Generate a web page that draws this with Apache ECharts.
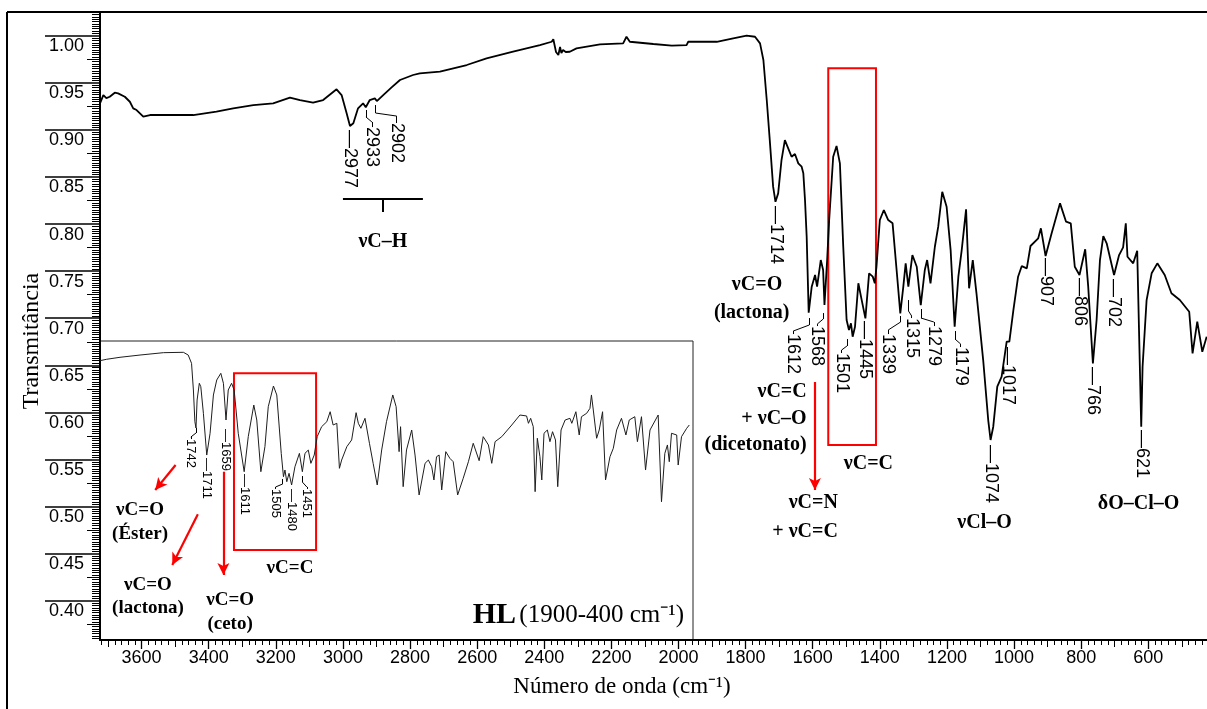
<!DOCTYPE html>
<html><head><meta charset="utf-8">
<script src="https://cdn.jsdelivr.net/npm/echarts@6/dist/echarts.min.js"></script>
<style>html,body{margin:0;padding:0;background:#fff}#c{width:1207px;height:709px}</style>
</head><body><div id="c"></div>
<script>
// ---------- main spectrum (complex) ----------
const mainWavenumber = [3724,3714,3705,3695,3680,3670,3650,3635,3625,3615,3605,3595,3575,3526,3446,3377,3327,3267,3208,3158,3128,3089,3059,3019,3004,2989,2979,2969,2955,2940,2932,2920,2905,2899,2880,2855,2830,2791,2771,2711,2631,2572,2493,2413,2378,2373,2365,2358,2353,2349,2344,2336,2324,2304,2234,2165,2155,2145,2075,2020,1976,1971,1886,1837,1797,1772,1757,1747,1737,1728,1718,1711,1703,1693,1683,1673,1663,1653,1643,1633,1628,1623,1618,1612,1603,1593,1587,1576,1569,1565,1557,1551,1539,1529,1519,1509,1499,1492,1486,1481,1474,1464,1454,1443,1432,1421,1415,1410,1400,1388,1375,1362,1350,1339,1330,1323,1315,1303,1290,1278,1266,1259,1249,1236,1226,1214,1201,1189,1177,1166,1156,1143,1134,1123,1112,1092,1077,1070,1062,1050,1037,1022,1014,1002,988,977,962,951,928,920,906,888,863,845,831,819,805,788,779,765,754,744,734,724,702,687,675,667,662,645,633,621,617,605,590,573,551,531,506,478,468,454,439,426];
const mainTransmittance = [0.9282,0.9370,0.9338,0.9352,0.9395,0.9388,0.9352,0.9299,0.9229,0.9211,0.9176,0.9140,0.9158,0.9158,0.9158,0.9193,0.9229,0.9264,0.9282,0.9342,0.9317,0.9289,0.9317,0.9431,0.9370,0.9176,0.9041,0.9070,0.9229,0.9282,0.9240,0.9317,0.9335,0.9306,0.9370,0.9452,0.9530,0.9583,0.9601,0.9618,0.9689,0.9760,0.9830,0.9901,0.9936,0.9962,0.9827,0.9795,0.9880,0.9816,0.9848,0.9827,0.9830,0.9866,0.9909,0.9919,0.9989,0.9936,0.9912,0.9895,0.9901,0.9936,0.9936,0.9972,1.0000,0.9989,0.9919,0.9742,0.9317,0.8892,0.8397,0.8237,0.8326,0.8680,0.8892,0.8804,0.8715,0.8744,0.8645,0.8609,0.8539,0.8255,0.7866,0.7058,0.7335,0.7459,0.7335,0.7618,0.7512,0.7140,0.7618,0.8043,0.8715,0.8829,0.8645,0.7759,0.6981,0.6875,0.6946,0.6804,0.6910,0.7371,0.7193,0.6999,0.7477,0.7441,0.7371,0.7547,0.8043,0.8149,0.8043,0.8008,0.7512,0.7052,0.7335,0.7583,0.7335,0.7671,0.7547,0.7140,0.7512,0.7618,0.7371,0.7759,0.7972,0.8343,0.8184,0.7724,0.6910,0.7441,0.7724,0.8157,0.7318,0.7618,0.7265,0.6556,0.5919,0.5707,0.5848,0.6273,0.6379,0.6751,0.6751,0.7087,0.7441,0.7554,0.7530,0.7767,0.7849,0.7955,0.7661,0.7902,0.8220,0.8025,0.8008,0.7547,0.7459,0.7732,0.7335,0.6521,0.6981,0.7618,0.7873,0.7796,0.7459,0.7671,0.7753,0.8008,0.7653,0.7583,0.7717,0.5848,0.6485,0.7193,0.7477,0.7583,0.7459,0.7265,0.7193,0.7069,0.6627,0.6963,0.6644,0.6804];

// ---------- inset spectrum (HL, 1900-400 cm-1) ----------
const insetWavenumber = [2000,1982,1946,1892,1829,1775,1762,1753,1748,1744,1741,1738,1732,1728,1721,1712,1703,1694,1685,1674,1667,1660,1654,1645,1638,1627,1611,1600,1585,1577,1566,1555,1546,1532,1523,1511,1505,1501,1496,1490,1483,1474,1462,1454,1447,1438,1431,1422,1414,1402,1388,1379,1371,1361,1354,1348,1334,1321,1309,1303,1296,1285,1273,1263,1252,1240,1227,1210,1201,1193,1189,1182,1173,1159,1150,1139,1123,1114,1105,1099,1092,1085,1078,1067,1056,1047,1035,1020,1006,993,977,966,952,943,934,916,889,867,849,844,838,831,826,820,813,808,802,793,786,779,771,765,756,745,732,727,716,707,701,687,678,674,669,660,653,644,636,624,615,606,593,581,572,557,550,539,528,516,494,485,476,469,464,458,444,440,431,417,410];
const insetTransmittance = [0.6549,0.6564,0.6585,0.6609,0.6634,0.6638,0.6609,0.6521,0.6238,0.5901,0.5834,0.6131,0.6309,0.6273,0.5990,0.5547,0.5778,0.6185,0.6344,0.6415,0.6309,0.5919,0.6238,0.6309,0.6238,0.5778,0.5370,0.5742,0.6078,0.5919,0.5370,0.5636,0.6060,0.6280,0.6185,0.5565,0.5317,0.5388,0.5264,0.5353,0.5229,0.5423,0.5565,0.5370,0.5565,0.5600,0.5459,0.5547,0.5742,0.5848,0.5901,0.6007,0.5866,0.5884,0.5406,0.5494,0.5636,0.5707,0.5997,0.5884,0.5831,0.5937,0.5672,0.5459,0.5229,0.5601,0.5901,0.6185,0.6060,0.5583,0.5848,0.5211,0.5601,0.5813,0.5547,0.5123,0.5459,0.5494,0.5423,0.5282,0.5529,0.5547,0.5176,0.5583,0.5512,0.5476,0.5123,0.5300,0.5476,0.5672,0.5487,0.5742,0.5654,0.5459,0.5689,0.5742,0.5866,0.5972,0.5962,0.5884,0.5937,0.5848,0.5158,0.5725,0.5529,0.5282,0.5778,0.5813,0.5689,0.5795,0.5707,0.5211,0.5813,0.5919,0.5937,0.5884,0.6007,0.5760,0.5954,0.5990,0.6043,0.6185,0.6025,0.5725,0.5813,0.6007,0.5282,0.5529,0.5619,0.5813,0.5937,0.5760,0.5919,0.5954,0.5689,0.5954,0.5388,0.5813,0.5972,0.5051,0.5565,0.5654,0.5476,0.5778,0.5760,0.5441,0.5742,0.5831,0.5866];

// ---------- axis ticks ----------
const yTickValues = [0.40,0.45,0.50,0.55,0.60,0.65,0.70,0.75,0.80,0.85,0.90,0.95,1.00];
const xTickValues = [3600,3400,3200,3000,2800,2600,2400,2200,2000,1800,1600,1400,1200,1000,800,600];

// ---------- annotations (data coordinates) ----------
const mainPeakLabels = [
  ['—2977',2979,0.8999],['2933',2914,0.9030],['2902',2839,0.9073],['—1714',1711,0.8192],
  ['1612',1658,0.6832],['1568',1586.5,0.6917],['1501',1514,0.6631],['—1445',1443,0.6970],
  ['1339',1375,0.6832],['1315',1305,0.7002],['1279',1239,0.6917],['1179',1159,0.6694],
  ['—1074',1069,0.5654],['—1017',1018,0.6694],['—907',905,0.7639],['—806',803.6,0.7427],
  ['—766',764,0.6482],['—702',701.4,0.7417],['—621',619.7,0.5813]
];
const mainLeaders = [
  [[2931.5,0.9211],[2931.5,0.9137],[2913.6,0.9084],[2913.6,0.9030]],
  [[2902.6,0.9264],[2902.6,0.9179],[2840,0.9147],[2840,0.9073]],
  [[1610.3,0.7002],[1610.3,0.6928],[1658,0.6864],[1658,0.6832]],
  [[1568.6,0.7055],[1568.6,0.6992],[1586.5,0.6938],[1586.5,0.6917]],
  [[1498,0.6779],[1498,0.6705],[1514,0.6662],[1514,0.6631]],
  [[1338,0.7024],[1338,0.6960],[1375,0.6875],[1375,0.6832]],
  [[1314.7,0.7193],[1314.7,0.7077],[1305,0.7023],[1305,0.7002]],
  [[1277.5,0.7098],[1277.5,0.7002],[1239,0.6960],[1239,0.6917]],
  [[1176,0.6864],[1176,0.6779],[1159,0.6726],[1159,0.6694]]
];
const chBracket = [[[3000,0.8266],[2761.7,0.8266]],[[2881,0.8266],[2881,0.8128]]];
const mainArrows = [[[1593.4,0.6323],[1593.4,0.5176]]];
const mainBoxes = [[[1553.7,0.9654],[1411.5,0.5654]]];
const mainBandLabels = [
  ['νC–H',2881,0.7809,'center'],['νC=O',1766,0.7353,'center'],['(lactona)',1782,0.7055,'center'],
  ['νC=C',1618,0.6219,'right'],['+ νC–O',1618,0.5937,'right'],['(dicetonato)',1618,0.5654,'right'],
  ['νC=N',1525,0.5035,'right'],['+ νC=C',1525,0.4733,'right'],['νC=C',1434,0.5459,'center'],
  ['νCl–O',1088,0.4829,'center'],['δO–Cl–O',629,0.5027,'center']
];
const insetPeakLabels = [
  ['1742',1755,0.5717],['—1711',1712,0.5516],['—1659',1660,0.5824],['—1611',1611,0.5346],
  ['1505',1526,0.5187],['—1480',1483,0.5187],['1451',1442,0.5187]
];
const insetLeaders = [
  [[1741,0.5834],[1741,0.5781],[1755,0.5738],[1755,0.5717]],
  [[1507,0.5293],[1507,0.5240],[1526,0.5208],[1526,0.5187]],
  [[1454,0.5324],[1454,0.5260],[1442,0.5208],[1442,0.5187]]
];
const insetArrows = [[[1796,0.5441],[1851,0.5176]],[[1736,0.4918],[1805,0.4379]],[[1667,0.5370],[1667,0.4273]]];
const insetBoxes = [[[1638.5,0.6415],[1417,0.4539]]];
const insetBandLabels = [
  ['νC=O',1892,0.4963],['(Éster)',1892,0.4708],['νC=O',1870.5,0.4166],['(lactona)',1870.5,0.3919],
  ['νC=O',1649,0.4007],['(ceto)',1649,0.3752],['νC=C',1487.4,0.4344]
];

// ---------- helpers ----------
const SANS = 'Liberation Sans', SERIF = 'Liberation Serif';
function segs(polys, style) {
  const out = [];
  polys.forEach(p => { for (let i = 0; i < p.length - 1; i++) out.push([{coord: p[i], lineStyle: style}, {coord: p[i+1], lineStyle: style}]); });
  return out;
}
function arrows(list) {
  const st = {color: '#ff0000', width: 2.2, type: 'solid'};
  return list.map(a => [{coord: a[0], symbol: 'none', lineStyle: st}, {coord: a[1], symbol: 'arrow', symbolSize: [9, 12], lineStyle: st}]);
}
function peakMarks(list, size) {
  return list.map(p => ({coord: [p[1], p[2]], symbol: 'circle', symbolSize: 1, itemStyle: {color: 'rgba(0,0,0,0)'},
    label: {show: true, position: 'inside', formatter: p[0], rotate: -90, align: 'left', verticalAlign: 'middle',
      fontSize: size, fontFamily: SANS, color: '#000'}}));
}
function bandMarks(list, size) {
  return list.map(p => ({coord: [p[1], p[2]], symbol: 'circle', symbolSize: 1, itemStyle: {color: 'rgba(0,0,0,0)'},
    label: {show: true, position: 'inside', formatter: p[0], align: p[3] || 'center', verticalAlign: 'middle',
      fontSize: size, fontFamily: SERIF, fontWeight: 'bold', color: '#000'}}));
}
function boxes(list) { return list.map(b => [{coord: b[0]}, {coord: b[1]}]); }

// tick helpers (axis decoration only)
const yMinor = [], yMid = [];
for (let i = 144; i <= 410; i++) { const v = +(i * 0.0025).toFixed(4); if (i % 20 === 0) continue; (i % 10 === 0 ? yMid : yMinor).push(v); }
const xMinor = [], xMid = [];
for (let w = 440; w <= 3720; w += 20) { if (w % 200 === 0) continue; (w % 100 === 0 ? xMid : xMinor).push(w); }

const XMIN = 425, XMAX = 3724, YMIN = 0.3583, YMAX = 1.0252;
const blk = {color: '#000'};

const chart = echarts.init(document.getElementById('c'), null, {renderer: 'canvas'});
const option = {
  animation: false,
  backgroundColor: '#fff',
  grid: [
    {left: 100, top: 12, width: 1107, height: 628, outerBoundsMode: 'none', containLabel: false},
    {left: 100, top: 341, width: 593, height: 299, show: true, borderColor: '#222', borderWidth: 1, backgroundColor: '#fff', outerBoundsMode: 'none', containLabel: false}
  ],
  xAxis: [
    {gridIndex: 0, type: 'value', position: 'bottom', min: XMIN, max: XMAX, inverse: true,
      axisLine: {show: true, onZero: false, lineStyle: {color: '#000', width: 2}},
      axisTick: {show: true, customValues: xTickValues, length: 9, lineStyle: {color: '#000', width: 1.3}},
      axisLabel: {show: true, customValues: xTickValues, formatter: v => String(Math.round(v)), fontSize: 18, fontFamily: SANS, color: '#000', margin: 9},
      splitLine: {show: false}},
    {gridIndex: 0, type: 'value', position: 'bottom', min: XMIN, max: XMAX, inverse: true,
      axisLine: {show: false}, axisTick: {show: true, customValues: xMinor, length: 5, lineStyle: {color: '#000', width: 1}},
      axisLabel: {show: false}, splitLine: {show: false}},
    {gridIndex: 0, type: 'value', position: 'bottom', min: XMIN, max: XMAX, inverse: true,
      axisLine: {show: false}, axisTick: {show: true, customValues: xMid, length: 7, lineStyle: {color: '#000', width: 1}},
      axisLabel: {show: false}, splitLine: {show: false}},
    {gridIndex: 1, type: 'value', min: 400, max: 2000, inverse: true, show: false, splitLine: {show: false}}
  ],
  yAxis: [
    {gridIndex: 0, type: 'value', position: 'left', min: YMIN, max: YMAX,
      axisLine: {show: true, onZero: false, lineStyle: {color: '#000', width: 2}},
      axisTick: {show: true, customValues: yTickValues, length: 55, lineStyle: {color: '#000', width: 1.5}},
      axisLabel: {show: true, customValues: yTickValues, formatter: v => '\n' + v.toFixed(2), fontSize: 18, fontFamily: SANS,
        color: '#000', margin: 16, verticalAlign: 'middle', lineHeight: 21},
      splitLine: {show: false}},
    {gridIndex: 0, type: 'value', position: 'left', min: YMIN, max: YMAX,
      axisLine: {show: false}, axisTick: {show: true, customValues: yMinor, length: 8, lineStyle: {color: '#000', width: 1}},
      axisLabel: {show: false}, splitLine: {show: false}},
    {gridIndex: 0, type: 'value', position: 'left', min: YMIN, max: YMAX,
      axisLine: {show: false}, axisTick: {show: true, customValues: yMid, length: 13, lineStyle: {color: '#000', width: 1}},
      axisLabel: {show: false}, splitLine: {show: false}},
    {gridIndex: 1, type: 'value', min: YMIN, max: 0.6758, show: false, splitLine: {show: false}}
  ],
  series: [
    {
      name: 'complexo', type: 'line', xAxisIndex: 0, yAxisIndex: 0, showSymbol: false, symbol: 'none', z: 5,
      lineStyle: {color: '#000', width: 1.8}, itemStyle: blk,
      data: mainWavenumber.map((w, i) => [w, mainTransmittance[i]]),
      markPoint: {silent: true, animation: false, data: peakMarks(mainPeakLabels, 18).concat(bandMarks(mainBandLabels, 20))},
      markLine: {silent: true, animation: false, symbol: ['none', 'none'], label: {show: false},
        lineStyle: {color: '#000', width: 1, type: 'solid'},
        data: segs(mainLeaders, {color: '#000', width: 1, type: 'solid'})
          .concat(segs(chBracket, {color: '#000', width: 2, type: 'solid'}))
          .concat(arrows(mainArrows))},
      markArea: {silent: true, label: {show: false}, itemStyle: {color: 'rgba(0,0,0,0)', borderColor: '#ff0000', borderWidth: 2},
        data: boxes(mainBoxes)}
    },
    {
      name: 'HL', type: 'line', xAxisIndex: 3, yAxisIndex: 3, showSymbol: false, symbol: 'none', z: 5,
      lineStyle: {color: '#1e1e1e', width: 1}, itemStyle: blk,
      data: insetWavenumber.map((w, i) => [w, insetTransmittance[i]]),
      markPoint: {silent: true, animation: false,
        data: peakMarks(insetPeakLabels, 13).concat(bandMarks(insetBandLabels, 19)).concat([{
          coord: [424, 0.3848], symbol: 'circle', symbolSize: 1, itemStyle: {color: 'rgba(0,0,0,0)'},
          label: {show: true, position: 'inside', align: 'right', verticalAlign: 'middle', color: '#000',
            formatter: '{hb|HL} {hn|(1900-400 cm⁻¹)}',
            rich: {hb: {fontFamily: SERIF, fontWeight: 'bold', fontSize: 30, color: '#000'},
                   hn: {fontFamily: SERIF, fontSize: 25, color: '#000'}}}
        }])},
      markLine: {silent: true, animation: false, symbol: ['none', 'none'], label: {show: false},
        lineStyle: {color: '#000', width: 1, type: 'solid'},
        data: segs(insetLeaders, {color: '#000', width: 1, type: 'solid'}).concat(arrows(insetArrows))},
      markArea: {silent: true, label: {show: false}, itemStyle: {color: 'rgba(0,0,0,0)', borderColor: '#ff0000', borderWidth: 2},
        data: boxes(insetBoxes)}
    }
  ],
  graphic: [
    {type: 'line', shape: {x1: 7, y1: 12, x2: 1207, y2: 12}, style: {stroke: '#000', lineWidth: 2}, silent: true},
    {type: 'line', shape: {x1: 7, y1: 12, x2: 7, y2: 709}, style: {stroke: '#000', lineWidth: 2}, silent: true},
    {type: 'text', x: 32, y: 341, rotation: Math.PI / 2, silent: true,
      style: {text: 'Transmitância', font: '24px "Liberation Serif"', fill: '#000', align: 'center', verticalAlign: 'middle', textAlign: 'center', textVerticalAlign: 'middle'}},
    {type: 'text', x: 622, y: 687, silent: true,
      style: {text: 'Número de onda (cm⁻¹)', font: '23px "Liberation Serif"', fill: '#000', align: 'center', verticalAlign: 'middle', textAlign: 'center', textVerticalAlign: 'middle'}}
  ]
};
chart.setOption(option);
</script>
</body></html>
